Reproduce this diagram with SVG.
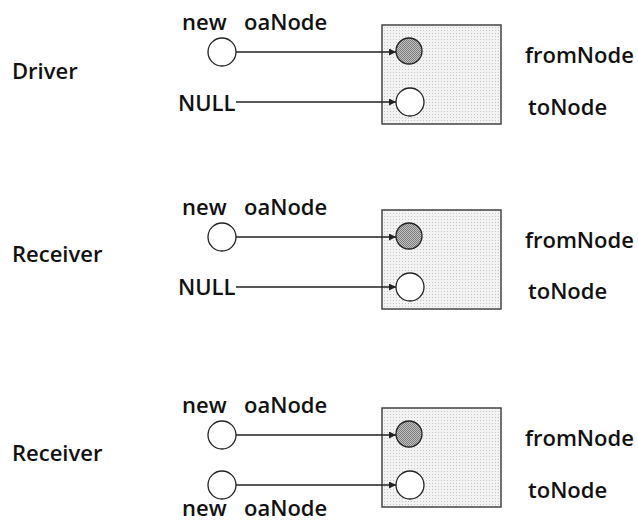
<svg xmlns="http://www.w3.org/2000/svg" width="638" height="523" viewBox="0 0 638 523">
<style>
text{font-family:"Open Sans","Noto Sans","Liberation Sans",sans-serif;font-size:22px;font-weight:600;fill:#111}
.box{fill:url(#dots);stroke:#444;stroke-width:1.5}
.open{fill:#fff;stroke:#222;stroke-width:1.3}
.shade{fill:url(#hatch);stroke:#222;stroke-width:1.3}
.conn{stroke:#222;stroke-width:1.3;fill:none;marker-end:url(#arr)}
</style>
<defs>
<pattern id="dots" width="3" height="3" patternUnits="userSpaceOnUse">
<rect width="3" height="3" fill="#f3f3f3"/>
<rect x="0" y="0" width="1" height="1" fill="#c4c4c4"/>
</pattern>
<pattern id="hatch" width="2" height="2" patternUnits="userSpaceOnUse">
<rect width="2" height="2" fill="#c2c2c2"/>
<rect x="0" y="0" width="1" height="1" fill="#7c7c7c"/>
<rect x="1" y="1" width="1" height="1" fill="#7c7c7c"/>
</pattern>
<marker id="arr" viewBox="0 0 10 10" refX="10" refY="5" markerWidth="7" markerHeight="7" markerUnits="userSpaceOnUse" orient="auto">
<path d="M0,0 L10,5 L0,10 Z" fill="#222"/>
</marker>
</defs>

<g id="block1">
<text x="12" y="79">Driver</text>
<g id="b1-box"><rect class="box" x="382" y="25" width="119" height="99"/></g>
<g id="b1-src1"><text x="182" y="30">new</text><text x="244" y="30">oaNode</text><circle class="open" cx="222" cy="52" r="14"/></g>
<g id="b1-src2"><text x="178" y="111">NULL</text></g>
<g id="b1-from"><circle class="shade" cx="409" cy="51" r="13"/><text x="525" y="63">fromNode</text></g>
<g id="b1-to"><circle class="open" cx="410" cy="102" r="14"/><text x="528" y="115">toNode</text></g>
</g>

<g id="block2">
<text x="12" y="262">Receiver</text>
<g id="b2-box"><rect class="box" x="382" y="210" width="119" height="99"/></g>
<g id="b2-src1"><text x="182" y="215">new</text><text x="244" y="215">oaNode</text><circle class="open" cx="222" cy="237" r="14"/></g>
<g id="b2-src2"><text x="178" y="295">NULL</text></g>
<g id="b2-from"><circle class="shade" cx="409" cy="236" r="13"/><text x="525" y="248">fromNode</text></g>
<g id="b2-to"><circle class="open" cx="410" cy="287" r="14"/><text x="528" y="299">toNode</text></g>
</g>

<g id="block3">
<text x="12" y="461">Receiver</text>
<g id="b3-box"><rect class="box" x="382" y="408" width="119" height="99"/></g>
<g id="b3-src1"><text x="182" y="413">new</text><text x="244" y="413">oaNode</text><circle class="open" cx="222" cy="435" r="14"/></g>
<g id="b3-src2"><circle class="open" cx="222" cy="485" r="14"/><text x="182" y="516">new</text><text x="244" y="516">oaNode</text></g>
<g id="b3-from"><circle class="shade" cx="409" cy="434" r="13"/><text x="525" y="446">fromNode</text></g>
<g id="b3-to"><circle class="open" cx="410" cy="485" r="14"/><text x="528" y="498">toNode</text></g>
</g>

<g id="connectors">
<line class="conn" x1="236" y1="52" x2="396" y2="52"/>
<line class="conn" x1="236" y1="102" x2="396" y2="102"/>
<line class="conn" x1="236" y1="237" x2="396" y2="237"/>
<line class="conn" x1="236" y1="287" x2="396" y2="287"/>
<line class="conn" x1="236" y1="435" x2="396" y2="435"/>
<line class="conn" x1="236" y1="485" x2="396" y2="485"/>
</g>
</svg>
